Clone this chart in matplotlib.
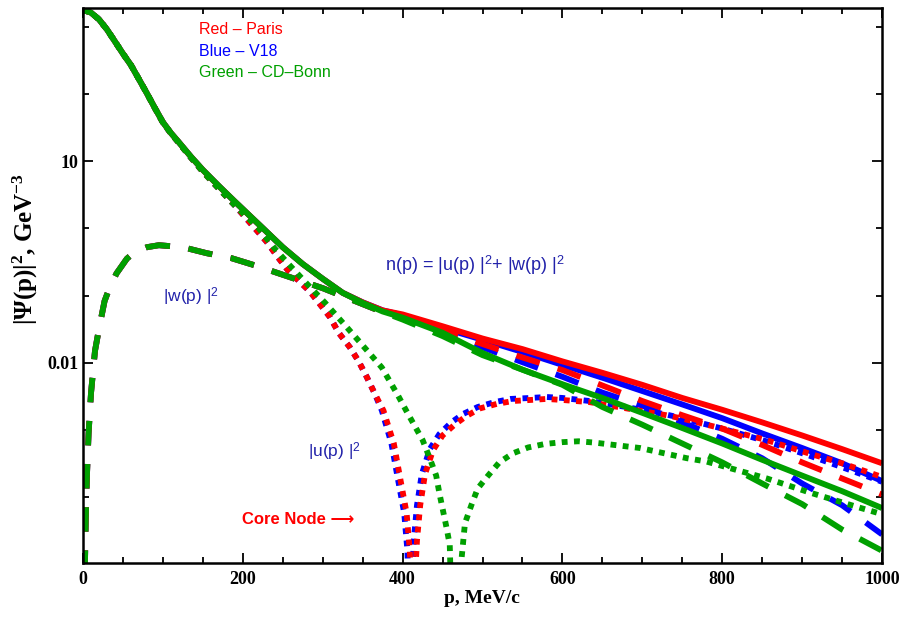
import matplotlib

matplotlib.use("Agg")
import matplotlib.pyplot as plt
import numpy as np
from matplotlib.ticker import NullFormatter

plt.rcParams["mathtext.fontset"] = "custom"
plt.rcParams["mathtext.rm"] = "Liberation Serif:bold"
plt.rcParams["mathtext.it"] = "Liberation Serif:bold"
plt.rcParams["mathtext.bf"] = "Liberation Serif:bold"
plt.rcParams["mathtext.sf"] = "Liberation Sans"

# ── Data (values in GeV^-3) ─────────────────────────────────
# n(p) = |u|^2 + |w|^2, solid lines
P_N = [0, 10, 20, 30, 40, 50, 60, 70, 80, 90, 100, 110, 120, 135, 150, 170,
       190, 220, 250, 275, 300, 325, 350, 375, 400, 450, 500, 550, 600, 650,
       700, 750, 800, 850, 900, 950, 1000]
N_LOW = [1778, 1622, 1288, 912, 603, 398, 269, 166, 102, 61.7, 38.0, 26.3,
         19.1, 11.7, 7.41, 4.27, 2.51, 1.15, 0.525, 0.295, 0.178, 0.110,
         0.0794, 0.0603]
N_PARIS = N_LOW + [5.25e-2, 3.5e-2, 2.3e-2, 1.6e-2, 1.05e-2, 7.1e-3, 4.7e-3,
                   3.0e-3, 2.0e-3, 1.3e-3, 8.3e-4, 5.2e-4, 3.2e-4]
N_V18 = N_LOW + [5.1e-2, 3.3e-2, 2.2e-2, 1.45e-2, 9.3e-3, 6.0e-3, 3.8e-3,
                 2.4e-3, 1.5e-3, 8.9e-4, 5.4e-4, 3.2e-4, 1.74e-4]
N_CDB = N_LOW[:-2] + [0.078, 0.058, 4.7e-2, 2.8e-2, 1.4e-2, 7.9e-3, 4.8e-3,
                      3.0e-3, 1.8e-3, 1.07e-3, 6.3e-4, 3.6e-4, 2.1e-4,
                      1.23e-4, 6.9e-5]

# |w(p)|^2, dashed lines
P_W = [1, 2, 3.5, 5, 7, 10, 15, 20, 27, 34, 42, 55, 65, 80, 95, 125, 155, 185,
       215, 245, 270, 300, 330, 370, 400, 450, 500, 550, 600, 650, 700, 750,
       800, 850, 900, 950, 1000]
W_LOW = [1e-7, 5e-6, 5e-5, 2.2e-4, 8.9e-4, 3.5e-3, 1.5e-2, 3.2e-2, 8.3e-2,
         0.138, 0.214, 0.355, 0.447, 0.525, 0.562, 0.525, 0.427, 0.363, 0.282,
         0.214, 0.170, 0.129, 0.093, 0.060]
W_PARIS = W_LOW + [4.7e-2, 2.95e-2, 1.9e-2, 1.2e-2, 7.8e-3, 4.6e-3, 2.7e-3,
                   1.66e-3, 1.05e-3, 6.0e-4, 3.3e-4, 1.9e-4, 1.1e-4]
W_V18 = W_LOW + [4.7e-2, 2.8e-2, 1.7e-2, 1.02e-2, 6.2e-3, 3.6e-3, 2.3e-3,
                 1.3e-3, 7.4e-4, 3.8e-4, 1.6e-4, 7.6e-5, 2.8e-5]
W_CDB = W_LOW + [4.4e-2, 2.5e-2, 1.3e-2, 7.9e-3, 4.7e-3, 2.2e-3, 1.2e-3,
                 6.3e-4, 3.3e-4, 1.6e-4, 7.9e-5, 3.3e-5, 1.6e-5]

# |u(p)|^2, dotted lines (shared low-momentum part, then per model)
P_U_LOW = [0, 10, 20, 30, 40, 50, 60, 70, 80, 90, 100, 110, 120, 135, 150,
           170, 190]
U_LOW = [1778, 1622, 1288, 912, 603, 398, 269, 166, 102, 61.5, 37.6, 25.9,
         18.7, 11.3, 6.98, 3.9, 2.2]
P_U_PARIS = P_U_LOW + [230, 242, 255, 270, 284, 300, 309, 320, 334, 345, 355,
                       365, 376, 389, 397, 405, 409, 412, 418, 422, 428, 438,
                       450, 465, 480, 497, 518, 538, 560, 580, 600, 634, 680,
                       730, 750, 800, 855, 908, 950, 1000]
U_PARIS = U_LOW + [0.63, 0.40, 0.25, 0.166, 0.115, 6.6e-2, 4.8e-2, 2.8e-2,
                   1.7e-2, 1.05e-2, 6.2e-3, 3.5e-3, 1.95e-3, 6.3e-4, 1.9e-4,
                   5.8e-5, 1.6e-5, 1e-6, 2.3e-5, 7.6e-5, 2.2e-4, 5.0e-4,
                   8.3e-4, 1.2e-3, 1.62e-3, 2.1e-3, 2.45e-3, 2.7e-3, 2.8e-3,
                   2.9e-3, 2.8e-3, 2.6e-3, 2.1e-3, 1.66e-3, 1.48e-3, 1.05e-3,
                   7.1e-4, 4.5e-4, 3.2e-4, 2.0e-4]
P_U_V18 = P_U_LOW + [230, 242, 255, 270, 284, 300, 309, 320, 334, 345, 355,
                     365, 374, 386, 394, 402, 406, 409, 414, 418, 424, 434,
                     446, 461, 476, 494, 515, 535, 560, 580, 600, 634, 680,
                     730, 750, 800, 855, 908, 950, 1000]
U_V18 = U_LOW + [0.63, 0.40, 0.25, 0.166, 0.115, 6.6e-2, 4.8e-2, 2.8e-2,
                 1.7e-2, 1.05e-2, 6.2e-3, 3.5e-3, 1.95e-3, 6.3e-4, 1.9e-4,
                 5.8e-5, 1.6e-5, 1e-6, 2.3e-5, 7.6e-5, 2.2e-4, 5.2e-4,
                 8.7e-4, 1.3e-3, 1.74e-3, 2.2e-3, 2.6e-3, 2.9e-3, 3.0e-3,
                 3.1e-3, 3.0e-3, 2.7e-3, 2.2e-3, 1.7e-3, 1.5e-3, 1.05e-3,
                 6.8e-4, 4.2e-4, 2.8e-4, 1.7e-4]
P_U_CDB = P_U_LOW + [220, 240, 259, 280, 303, 330, 355, 374, 394, 406, 425,
                     434, 442, 446, 455, 459, 463, 474, 478, 486, 494, 507,
                     521, 538, 557, 578, 600, 620, 640, 697, 756, 780, 856,
                     910, 970, 1000]
U_CDB = U_LOW + [1.0, 0.50, 0.28, 0.151, 7.8e-2, 3.4e-2, 1.55e-2, 8.5e-3,
                 3.3e-3, 1.8e-3, 7.1e-4, 3.8e-4, 2.1e-4, 1.15e-4, 3.5e-5,
                 1.95e-5, 3e-7, 1.3e-5, 4.1e-5, 7.6e-5, 1.35e-4, 2.1e-4,
                 3.3e-4, 4.5e-4, 5.5e-4, 6.2e-4, 6.6e-4, 6.8e-4, 6.5e-4,
                 5.4e-4, 3.8e-4, 3.4e-4, 1.9e-4, 1.17e-4, 7.1e-5, 5.6e-5]

MODELS = ["V18", "Paris", "CD-Bonn"]  # draw order: green on top
COLORS = {"Paris": "#FF0000", "V18": "#0000FF", "CD-Bonn": "#00A000"}
CURVES = {
    "Paris": (N_PARIS, W_PARIS, P_U_PARIS, U_PARIS),
    "V18": (N_V18, W_V18, P_U_V18, U_V18),
    "CD-Bonn": (N_CDB, W_CDB, P_U_CDB, U_CDB),
}

# ── Figure ─────────────────────────────────────────────────
fig = plt.figure(figsize=(9.07, 6.17), dpi=100)
ax = fig.add_axes([0.0915, 0.0875, 0.881, 0.8995])
ax.set_yscale("log")

LW = 4.2
for m in MODELS:
    n, w, pu, u = CURVES[m]
    c = COLORS[m]
    ax.plot(pu, u, color=c, lw=LW, dashes=(1.0, 1.1), dash_capstyle="butt")
    ax.plot(P_W, w, color=c, lw=LW, dashes=(4.2, 3.2), dash_capstyle="butt")
    ax.plot(P_N, n, color=c, lw=LW, solid_capstyle="butt")

ax.set_xlim(0, 1000)
ax.set_ylim(1.05e-5, 1.9e3)

# ticks
serif = ["Liberation Serif", "DejaVu Serif"]
ax.set_xticks([0, 200, 400, 600, 800, 1000])
ax.set_xticks(np.arange(0, 1001, 50), minor=True)
ax.set_yticks([0.01, 10])
ax.set_yticklabels(["0.01", "10"])
ax.set_yticks([1e-4, 1e-3, 0.1, 1, 100, 1000], minor=True)
ax.yaxis.set_minor_formatter(NullFormatter())
ax.tick_params(which="both", direction="in", top=True, right=True, width=1.3)
ax.tick_params(which="major", length=7)
ax.tick_params(which="minor", length=4)
ax.tick_params(axis="x", which="major", pad=6)
for lab in ax.get_xticklabels() + ax.get_yticklabels():
    lab.set_family(serif)
    lab.set_fontweight("bold")
    lab.set_fontsize(13)
for s in ax.spines.values():
    s.set_linewidth(1.8)

ax.set_xlabel("p, MeV/c", family=serif, fontweight="bold", fontsize=14)
ax.xaxis.set_label_coords(0.4995, -0.048)
ax.set_ylabel(r"$|\Psi(p)|^{2}$, GeV$^{-3}$", family=serif,
              fontweight="bold", fontsize=18)
ax.yaxis.set_label_coords(-0.054, 0.565)

# annotations
sans = ["Liberation Sans", "DejaVu Sans"]
lab_blue = "#2222AA"
ax.text(0.145, 0.962, "Red – Paris", color="#FF0000", transform=ax.transAxes,
        family=sans, fontsize=11.5, va="center")
ax.text(0.145, 0.9225, "Blue – V18", color="#0000FF", transform=ax.transAxes,
        family=sans, fontsize=11.5, va="center")
ax.text(0.145, 0.883, "Green – CD–Bonn", color="#00A000",
        transform=ax.transAxes, family=sans, fontsize=11.5, va="center")
ax.text(0.378, 0.537, r"n(p) = |u(p) |$^{\mathsf{2}}$+ |w(p) |$^{\mathsf{2}}$",
        color=lab_blue, transform=ax.transAxes, family=sans, fontsize=13,
        va="center")
ax.text(0.100, 0.479, r"|w(p) |$^{\mathsf{2}}$", color=lab_blue,
        transform=ax.transAxes, family=sans, fontsize=12.5, va="center")
ax.text(0.282, 0.200, r"|u(p) |$^{\mathsf{2}}$", color=lab_blue,
        transform=ax.transAxes, family=sans, fontsize=12.5, va="center")
ax.text(0.199, 0.079, "Core Node ⟶", color="#FF0000", transform=ax.transAxes,
        family=sans, fontsize=12, fontweight="bold", va="center")

fig.savefig("out.png", dpi=100)
